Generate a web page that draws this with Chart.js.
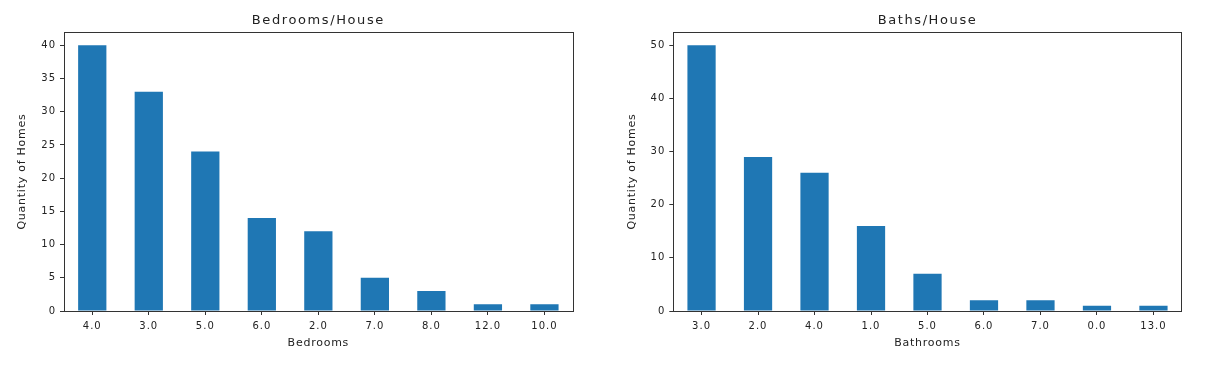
<!DOCTYPE html>
<html>
<head>
<meta charset="utf-8">
<script src="https://cdn.jsdelivr.net/npm/chart.js@4.4.0/dist/chart.umd.min.js"></script>
<style>
  html, body { margin: 0; padding: 0; background: #fff; }
  #wrap { position: relative; width: 1205px; height: 366px; }
  .box { position: absolute; top: 0; height: 366px; }
</style>
</head>
<body>
<div id="wrap">
  <div class="box" style="left:0;width:600px"><canvas id="bedChart"></canvas></div>
  <div class="box" style="left:600px;width:605px"><canvas id="bathChart"></canvas></div>
</div>
<script>
const bedLabels  = ['4.0', '3.0', '5.0', '6.0', '2.0', '7.0', '8.0', '12.0', '10.0'];
const bedCounts  = [40, 33, 24, 14, 12, 5, 3, 1, 1];
const bathLabels = ['3.0', '2.0', '4.0', '1.0', '5.0', '6.0', '7.0', '0.0', '13.0'];
const bathCounts = [50, 29, 26, 16, 7, 2, 2, 1, 1];

const BAR_BLUE = '#1f77b4';
const INK = '#222222';

Chart.defaults.font.family = "'DejaVu Sans', sans-serif";
Chart.defaults.font.size = 10;
Chart.defaults.color = INK;

// the old matplotlib renderer spaces glyphs wider; mimic with letterSpacing
const TICK_LS = '1px';
const LABEL_LS = '0.75px';
const TITLE_LS = '1.6px';

const origLabels = Chart.Scale.prototype.drawLabels;
Chart.Scale.prototype.drawLabels = function (area) {
    this.ctx.save();
    this.ctx.letterSpacing = TICK_LS;
    origLabels.call(this, area);
    this.ctx.restore();
};
const origTitle = Chart.Scale.prototype.drawTitle;
Chart.Scale.prototype.drawTitle = function (area) {
    this.ctx.save();
    this.ctx.letterSpacing = LABEL_LS;
    origTitle.call(this, area);
    this.ctx.restore();
};

// matplotlib style frame round the plot area
const frame = {
    id: 'frame',
    beforeDraw(chart) {
        chart.ctx.letterSpacing = TITLE_LS;
    },
    afterDraw(chart) {
        const { ctx, chartArea: a } = chart;
        ctx.save();
        ctx.strokeStyle = '#333333';
        ctx.lineWidth = 1;
        ctx.strokeRect(Math.round(a.left) + 0.5, Math.round(a.top) + 0.5,
                       Math.round(a.right - a.left), Math.round(a.bottom - a.top));
        ctx.restore();
    }
};

function makeChart(id, labels, values, title, xTitle, yMax, yStep, yWidth, yTitlePad, rightPad) {
    return new Chart(document.getElementById(id), {
        type: 'bar',
        data: {
            labels,
            datasets: [{
                data: values,
                backgroundColor: BAR_BLUE,
                borderWidth: 0,
                barPercentage: 0.5,
                categoryPercentage: 1
            }]
        },
        options: {
            responsive: true,
            maintainAspectRatio: false,
            animation: false,
            layout: { padding: { left: 0, right: rightPad, top: 0, bottom: 0 } },
            plugins: {
                legend: { display: false },
                tooltip: { enabled: false },
                title: {
                    display: true,
                    text: title,
                    fullSize: false,
                    color: INK,
                    font: { size: 13, weight: 'normal' },
                    padding: { top: 13, bottom: 3.4 }
                }
            },
            scales: {
                x: {
                    offset: true,
                    afterFit(s) { s.height = 55; },
                    grid: { display: true, offset: false, drawOnChartArea: false, tickLength: 4, color: '#333333' },
                    border: { display: false },
                    ticks: { padding: 5, color: INK, maxRotation: 0, autoSkip: false },
                    title: { display: true, text: xTitle, color: INK, font: { size: 11 }, padding: { top: 0, bottom: 16.1 } }
                },
                y: {
                    min: 0,
                    max: yMax,
                    afterFit(s) { s.width = yWidth; },
                    grid: { display: true, drawOnChartArea: false, tickLength: 4, color: '#333333' },
                    border: { display: false },
                    ticks: { stepSize: yStep, includeBounds: false, padding: 4, color: INK },
                    title: { display: true, text: 'Quantity of Homes', color: INK, font: { size: 11 }, padding: { top: yTitlePad, bottom: 0 } }
                }
            }
        },
        plugins: [frame]
    });
}

makeChart('bedChart', bedLabels, bedCounts, 'Bedrooms/House', 'Bedrooms', 42, 5, 64, 15.4, 27.3);
makeChart('bathChart', bathLabels, bathCounts, 'Baths/House', 'Bathrooms', 52.5, 10, 73.3, 25.4, 23.3);
</script>
</body>
</html>
